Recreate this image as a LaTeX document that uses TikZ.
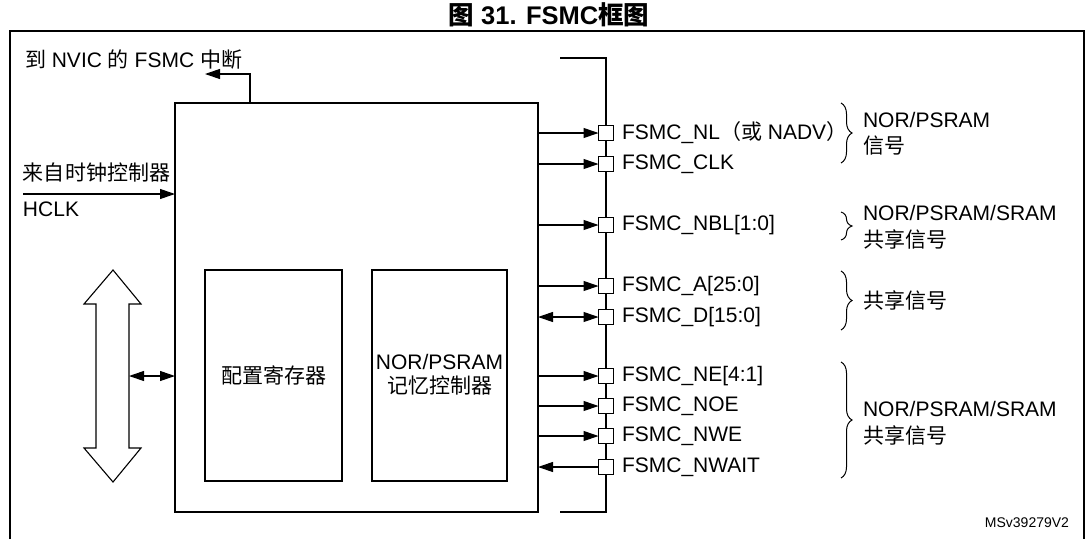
\documentclass[tikz,border=0pt]{standalone}
\usepackage{fontspec}
\setmainfont{Liberation Sans}
\newfontfamily\cjk{Noto Sans CJK SC}
\usetikzlibrary{arrows.meta,decorations.pathreplacing}
\newcommand{\zh}[1]{{\cjk #1}}
\begin{document}
\begin{tikzpicture}[x=1pt,y=-1pt,
  every node/.style={inner sep=0pt,outer sep=0pt,font=\fontsize{21}{25}\selectfont},
  arr/.style={line width=1.1pt,-{Triangle[length=15pt,width=10pt]}},
  darr/.style={line width=1.1pt,{Triangle[length=15pt,width=10pt]}-{Triangle[length=15pt,width=10pt]}},
  pin/.style={draw,line width=1.3pt,fill=white,minimum size=15pt},
  lbl/.style={anchor=west},
  brc/.style={decorate,decoration={brace,amplitude=11pt},line width=1pt},
  box/.style={draw,line width=1.4pt}]
\useasboundingbox (0,0) rectangle (1086,539);
% title
\node[font=\fontsize{25.5}{30}\selectfont] (title) at (549,15) {\bfseries\zh{图} 31. FSMC\zh{框图}};
% frame
\draw[line width=2pt] (10,539) -- (10,31) -- (1084,31) -- (1084,539);
% main block
\node[box,line width=1.6pt,minimum width=363pt,minimum height=409pt] (main) at (356.5,307.5) {};
\node[box,minimum width=137pt,minimum height=211pt] (cfg) at (273.5,375.5) {};
\node[box,minimum width=135pt,minimum height=211pt] (ctl) at (439.5,375.5) {};
\node (cfgt) at (cfg.center) {\zh{配置寄存器}};
\node[align=center] (ctlt) at (439.5,375) {NOR/PSRAM\\[-1pt]\zh{记忆控制器}};
% interrupt
\node[lbl] (irqt) at (25,60) {\zh{到} NVIC \zh{的} FSMC \zh{中断}};
\coordinate (irqb) at (250,103);
\coordinate (irq) at (205,74);
\draw[arr] (irqb) |- (irq);
% clock
\node[lbl] (clkt) at (23,173) {\zh{来自时钟控制器}};
\node[lbl] (hclkt) at (23,209) {HCLK};
\coordinate (hclk) at (23,194);
\draw[arr] (hclk) -- (main.west |- hclk);
% big bus arrow
\draw[line width=1.1pt,line join=miter] (113,270) -- (141,304) -- (129,304) -- (129,448) -- (141,448) -- (113,482) -- (84,448) -- (96,448) -- (96,304) -- (84,304) -- cycle;
\coordinate (busR) at (129,376);
\draw[darr] (busR) -- (main.west |- busR);
% bus line
\draw[line width=2pt] (560,58) -- (606,58) -- (606,512) -- (560,512);
% pins
\foreach \n/\y in {NL/133,CLK/164,NBL/225,A/286,D/317,NE/376,NOE/406,NWE/436,NWAIT/467}{
  \node[pin] (p\n) at (606,\y) {};
}
\node[lbl] (tNL) at (622,133) {FSMC\_NL\zh{（或} NADV\zh{）}};
\node[lbl] (tCLK) at (622,164) {FSMC\_CLK};
\node[lbl] (tNBL) at (622,225) {FSMC\_NBL[1:0]};
\node[lbl] (tA) at (622,286) {FSMC\_A[25:0]};
\node[lbl] (tD) at (622,317) {FSMC\_D[15:0]};
\node[lbl] (tNE) at (622,376) {FSMC\_NE[4:1]};
\node[lbl] (tNOE) at (622,406) {FSMC\_NOE};
\node[lbl] (tNWE) at (622,436) {FSMC\_NWE};
\node[lbl] (tNWAIT) at (622,467) {FSMC\_NWAIT};
\foreach \n in {NL,CLK,NBL,A,NE,NOE,NWE}{
  \draw[arr] (main.east |- p\n) -- (p\n.west);
}
\draw[darr] (main.east |- pD) -- (pD.west);
\draw[arr] (pNWAIT.west) -- (main.east |- pNWAIT);
% braces
\coordinate (b1a) at (841,103); \coordinate (b1b) at (841,163);
\coordinate (b2a) at (841,212); \coordinate (b2b) at (841,240);
\coordinate (b3a) at (841,271); \coordinate (b3b) at (841,330);
\coordinate (b4a) at (841,362); \coordinate (b4b) at (841,478);
\draw[brc] (b1a) -- (b1b);
\draw[brc] (b2a) -- (b2b);
\draw[brc] (b3a) -- (b3b);
\draw[brc] (b4a) -- (b4b);
\node[lbl] (g1a) at (863,120) {NOR/PSRAM};
\node[lbl] (g1b) at (863,146) {\zh{信号}};
\node[lbl] (g2a) at (863,213) {NOR/PSRAM/SRAM};
\node[lbl] (g2b) at (863,239) {\zh{共享信号}};
\node[lbl] (g3) at (863,300) {\zh{共享信号}};
\node[lbl] (g4a) at (863,409) {NOR/PSRAM/SRAM};
\node[lbl] (g4b) at (863,435) {\zh{共享信号}};
% id
\node[anchor=east,font=\fontsize{14}{16}\selectfont] (id) at (1069,523) {MSv39279V2};
\end{tikzpicture}
\end{document}
